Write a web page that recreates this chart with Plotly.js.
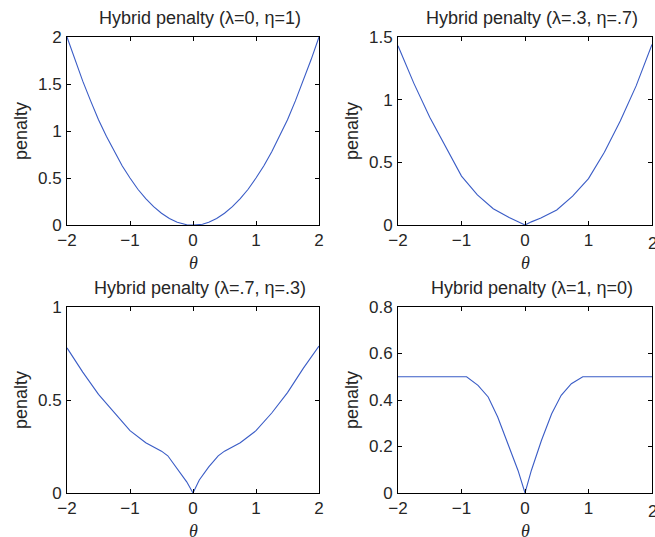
<!DOCTYPE html>
<html><head><meta charset="utf-8">
<script src="https://cdn.plot.ly/plotly-3.0.1.min.js"></script>
<style>html,body{margin:0;padding:0;background:#fff}#c{width:655px;height:537px}</style>
</head><body><div id="c"></div>
<script>
// Panel 1: λ=0, η=1
const theta1 = [-2,-1.875,-1.75,-1.625,-1.5,-1.375,-1.25,-1.125,-1,-0.875,-0.75,-0.625,-0.5,-0.375,-0.25,-0.15,-0.1,0,0.1,0.15,0.25,0.375,0.5,0.625,0.75,0.875,1,1.125,1.25,1.375,1.5,1.625,1.75,1.875,2];
const pen1   = [2.0,1.76,1.53,1.32,1.12,0.945,0.78,0.63,0.5,0.38,0.28,0.195,0.125,0.07,0.03,0.008,0.003,0,0.003,0.008,0.03,0.07,0.125,0.195,0.28,0.38,0.5,0.63,0.78,0.945,1.12,1.32,1.53,1.76,2.0];
// Panel 2: λ=.3, η=.7
const theta2 = [-2,-1.75,-1.5,-1.25,-1,-0.75,-0.5,-0.25,-0.1,0,0.1,0.25,0.5,0.75,1,1.25,1.5,1.75,2];
const pen2   = [1.43,1.13,0.86,0.62,0.39,0.24,0.13,0.06,0.025,0,0.025,0.055,0.12,0.23,0.37,0.58,0.83,1.11,1.44];
// Panel 3: λ=.7, η=.3
const theta3 = [-2,-1.75,-1.5,-1.25,-1,-0.75,-0.5,-0.4,-0.25,-0.1,0,0.1,0.25,0.4,0.5,0.75,1,1.25,1.5,1.75,2];
const pen3   = [0.78,0.65,0.53,0.43,0.335,0.27,0.225,0.2,0.13,0.06,0,0.07,0.14,0.2,0.225,0.27,0.335,0.43,0.54,0.67,0.79];
// Panel 4: λ=1, η=0
const theta4 = [-2,-0.92,-0.74,-0.58,-0.43,-0.27,-0.11,0,0.1,0.26,0.42,0.57,0.73,0.91,2];
const pen4   = [0.5,0.5,0.463,0.413,0.327,0.212,0.097,0,0.097,0.227,0.341,0.42,0.47,0.5,0.5];

const titles = ['Hybrid penalty (λ=0, η=1)','Hybrid penalty (λ=.3, η=.7)','Hybrid penalty (λ=.7, η=.3)','Hybrid penalty (λ=1, η=0)'];
const yticks = [[0,0.5,1,1.5,2],[0,0.5,1,1.5],[0,0.5,1],[0,0.2,0.4,0.6,0.8]];
const ytext  = [['0','0.5','1','1.5','2'],['0','0.5','1','1.5'],['0','0.5','1'],['0','0.2','0.4','0.6','0.8']];
const yranges = [[0,2],[0,1.5],[0,1],[0,0.8]];
const xticks = [-2,-1,0,1,2];
const xtext = ['−2','−1','0','1','2'];

const W=655,H=537;
const boxes = [[67,319,37,225],[398,652,37,225],[67,319,307,493],[398,652,307,493]];
const xs=[theta1,theta2,theta3,theta4], ys=[pen1,pen2,pen3,pen4];
const txtColor='#262626';
const sans='Liberation Sans, Arial, sans-serif';
const tickFont={family:sans,size:17,color:txtColor};

const data=[], layout={width:W,height:H,margin:{l:0,r:0,t:0,b:0},showlegend:false,
  paper_bgcolor:'#fff',plot_bgcolor:'#fff',annotations:[]};
for(let i=0;i<4;i++){
  const n=i+1, sfx=(n===1?'':n), xa='xaxis'+sfx, ya='yaxis'+sfx;
  data.push({x:xs[i],y:ys[i],type:'scatter',mode:'lines',xaxis:'x'+sfx,yaxis:'y'+sfx,
    line:{color:'#3a5cc6',width:1.1},hoverinfo:'skip'});
  const b=boxes[i];
  const common={showline:true,mirror:'ticks',linecolor:'#000',linewidth:1,ticks:'inside',ticklen:4,
    tickcolor:'#000',showgrid:false,zeroline:false,tickfont:tickFont,fixedrange:true};
  layout[xa]=Object.assign({},common,{domain:[b[0]/W,b[1]/W],range:[-2,2],tickvals:xticks,ticktext:xtext,
    anchor:'y'+sfx,ticklabelstandoff:0});
  layout[ya]=Object.assign({},common,{domain:[(H-b[3])/H,(H-b[2])/H],range:yranges[i],tickvals:yticks[i],ticktext:ytext[i],
    anchor:'x'+sfx,ticklabelstandoff:1});
  const cx=(b[0]+b[1])/2+7, cy=(b[2]+b[3])/2;
  layout.annotations.push({text:titles[i],xref:'paper',yref:'paper',x:cx/W,y:(H-(b[2]-19))/H,
    showarrow:false,xanchor:'center',yanchor:'middle',font:{family:sans,size:18,color:txtColor}});
  layout.annotations.push({text:'penalty',xref:'paper',yref:'paper',x:(b[0]-46)/W,y:(H-cy)/H,textangle:-90,
    showarrow:false,xanchor:'center',yanchor:'middle',font:{family:sans,size:18,color:txtColor}});
  layout.annotations.push({text:'<i>θ</i>',xref:'paper',yref:'paper',x:((b[0]+b[1])/2)/W,y:(H-(b[3]+38))/H,
    showarrow:false,xanchor:'center',yanchor:'middle',font:{family:'Liberation Serif, Times New Roman, serif',size:18,color:txtColor}});
}
// right-hand "2" tick labels of the right-column panels (drawn partly off the page edge, as in the original)
for(const sfx of ['2','4']){
  const b = sfx==='2'?boxes[1]:boxes[3];
  layout.annotations.push({text:'2',xref:'x'+sfx,yref:'paper',x:2,y:(H-(b[3]+18))/H,showarrow:false,
    xanchor:'center',yanchor:'middle',font:tickFont});
}
Plotly.newPlot('c',data,layout,{staticPlot:true});
</script></body></html>
